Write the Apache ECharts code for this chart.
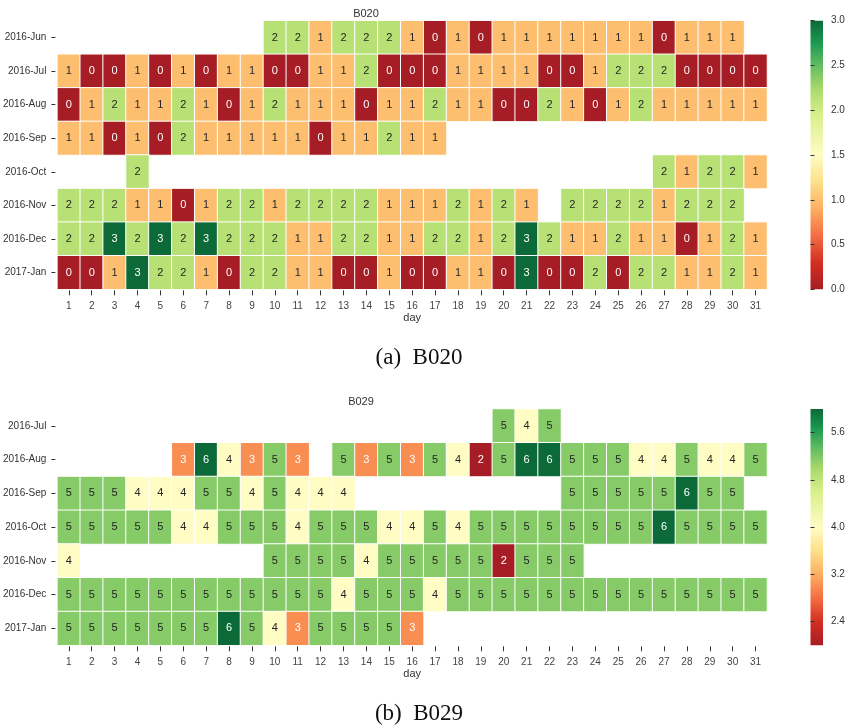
<!DOCTYPE html>
<html>
<head>
<meta charset="utf-8">
<script src="https://cdn.jsdelivr.net/npm/echarts@6/dist/echarts.min.js"></script>
<style>
html,body{margin:0;padding:0;background:#fff;}
#chart{width:854px;height:725px;}
</style>
</head>
<body>
<div id="chart"></div>
<script>
const days = ['1','2','3','4','5','6','7','8','9','10','11','12','13','14','15','16','17','18','19','20','21','22','23','24','25','26','27','28','29','30','31'];

const b020Months = ['2016-Jun','2016-Jul','2016-Aug','2016-Sep','2016-Oct','2016-Nov','2016-Dec','2017-Jan'];
const b020Jun = [null,null,null,null,null,null,null,null,null,2,2,1,2,2,2,1,0,1,0,1,1,1,1,1,1,1,0,1,1,1,null];
const b020Jul = [1,0,0,1,0,1,0,1,1,0,0,1,1,2,0,0,0,1,1,1,1,0,0,1,2,2,2,0,0,0,0];
const b020Aug = [0,1,2,1,1,2,1,0,1,2,1,1,1,0,1,1,2,1,1,0,0,2,1,0,1,2,1,1,1,1,1];
const b020Sep = [1,1,0,1,0,2,1,1,1,1,1,0,1,1,2,1,1,null,null,null,null,null,null,null,null,null,null,null,null,null,null];
const b020Oct = [null,null,null,2,null,null,null,null,null,null,null,null,null,null,null,null,null,null,null,null,null,null,null,null,null,null,2,1,2,2,1];
const b020Nov = [2,2,2,1,1,0,1,2,2,1,2,2,2,2,1,1,1,2,1,2,1,null,2,2,2,2,1,2,2,2,null];
const b020Dec = [2,2,3,2,3,2,3,2,2,2,1,1,2,2,1,1,2,2,1,2,3,2,1,1,2,1,1,0,1,2,1];
const b020Jan = [0,0,1,3,2,2,1,0,2,2,1,1,0,0,1,0,0,1,1,0,3,0,0,2,0,2,2,1,1,2,1];
const b020Rows = [b020Jun,b020Jul,b020Aug,b020Sep,b020Oct,b020Nov,b020Dec,b020Jan];
const b020Ticks = [0,0.5,1,1.5,2,2.5,3];

const b029Months = ['2016-Jul','2016-Aug','2016-Sep','2016-Oct','2016-Nov','2016-Dec','2017-Jan'];
const b029Jul = [null,null,null,null,null,null,null,null,null,null,null,null,null,null,null,null,null,null,null,5,4,5,null,null,null,null,null,null,null,null,null];
const b029Aug = [null,null,null,null,null,3,6,4,3,5,3,null,5,3,5,3,5,4,2,5,6,6,5,5,5,4,4,5,4,4,5];
const b029Sep = [5,5,5,4,4,4,5,5,4,5,4,4,4,null,null,null,null,null,null,null,null,null,5,5,5,5,5,6,5,5,null];
const b029Oct = [5,5,5,5,5,4,4,5,5,5,4,5,5,5,4,4,5,4,5,5,5,5,5,5,5,5,6,5,5,5,5];
const b029Nov = [4,null,null,null,null,null,null,null,null,5,5,5,5,4,5,5,5,5,5,2,5,5,5,null,null,null,null,null,null,null,null];
const b029Dec = [5,5,5,5,5,5,5,5,5,5,5,5,4,5,5,5,4,5,5,5,5,5,5,5,5,5,5,5,5,5,5];
const b029Jan = [5,5,5,5,5,5,5,6,5,4,3,5,5,5,5,3,null,null,null,null,null,null,null,null,null,null,null,null,null,null,null];
const b029Rows = [b029Jul,b029Aug,b029Sep,b029Oct,b029Nov,b029Dec,b029Jan];
const b029Ticks = [2.4,3.2,4.0,4.8,5.6];

const cmapStops = [[0,'#a61d25'],[0.1,'#d42e22'],[0.2,'#f46d43'],[0.3,'#fdae61'],[0.4,'#fee08b'],[0.5,'#fffcc4'],[0.65,'#d9ef8b'],[0.75,'#a6d96a'],[0.83,'#66bd63'],[0.92,'#1a9850'],[1,'#0b6a37']];

function buildData(rows, vmin, vmax){
  const out = [];
  rows.forEach((row, yi) => {
    row.forEach((v, xi) => {
      if (v === null) return;
      const t = (v - vmin) / (vmax - vmin);
      const dark = t < 0.3 || t > 0.85;
      out.push({value:[xi, yi, v], label:{color: dark ? '#ffffff' : '#262626'}});
    });
  });
  return out;
}

function cmapColors(){ return cmapStops.map(s => s[1]); }
function gradient(){
  return new echarts.graphic.LinearGradient(0,1,0,0, cmapStops.map(s => ({offset:s[0], color:s[1]})));
}

const txt = '#333';
const fontFam = 'Liberation Sans, Arial, sans-serif';

function heatAxes(gridIndex, months, bottomGap){
  return {
    x: {
      type:'category', data: days, gridIndex: gridIndex, position:'bottom', offset: 1,
      axisLine:{show:false},
      axisTick:{show:true, alignWithLabel:true, length:5, lineStyle:{color:'#333', width:1}},
      axisLabel:{color:'#444', fontSize:10, margin:11, fontFamily:fontFam, interval:0},
      splitLine:{show:false},
      name:'day', nameLocation:'middle', nameGap: bottomGap,
      nameTextStyle:{color:txt, fontSize:11, fontFamily:fontFam}
    },
    y: {
      type:'category', data: months, gridIndex: gridIndex, inverse:true, offset:2,
      axisLine:{show:false},
      axisTick:{show:true, alignWithLabel:true, length:4, lineStyle:{color:'#333', width:1}},
      axisLabel:{color:txt, fontSize:10, margin:9, fontFamily:fontFam, interval:0},
      splitLine:{show:false}
    }
  };
}

const a1 = heatAxes(0, b020Months, 22);
const a2 = heatAxes(1, b029Months, 21);

const option = {
  animation:false,
  backgroundColor:'#fff',
  title:[
    {text:'B020', left:361, top:3, textAlign:'center', textStyle:{fontSize:11, fontWeight:'normal', color:txt, fontFamily:fontFam}},
    {text:'B029', left:356, top:391, textAlign:'center', textStyle:{fontSize:11, fontWeight:'normal', color:txt, fontFamily:fontFam}},
    {text:'(a)  B020', left:414, top:341, textAlign:'center', textStyle:{fontSize:23, fontWeight:'normal', color:'#111', fontFamily:'Liberation Serif, serif'}},
    {text:'(b)  B029', left:414, top:697, textAlign:'center', textStyle:{fontSize:23, fontWeight:'normal', color:'#111', fontFamily:'Liberation Serif, serif'}}
  ],
  grid:[
    {left:56, top:20.7, width:711, height:268.6},
    {left:56, top:409, width:711, height:236.3},
    {left:810.5, top:20.7, width:12.5, height:268.6, show:true, borderWidth:0, backgroundColor: gradient()},
    {left:810.5, top:409, width:12.5, height:236.3, show:true, borderWidth:0, backgroundColor: gradient()}
  ],
  xAxis:[a1.x, a2.x,
    {type:'value', gridIndex:2, show:false},
    {type:'value', gridIndex:3, show:false}
  ],
  yAxis:[a1.y, a2.y,
    {type:'value', gridIndex:2, position:'right', min:0, max:3,
     axisLine:{show:false}, splitLine:{show:false},
     axisTick:{show:true, length:4, lineStyle:{color:'#333'}, customValues:b020Ticks},
     axisLabel:{color:txt, fontSize:10, margin:8, fontFamily:fontFam, customValues:b020Ticks, formatter:v => Number(v).toFixed(1), showMinLabel:true, showMaxLabel:true}},
    {type:'value', gridIndex:3, position:'right', min:2, max:6,
     axisLine:{show:false}, splitLine:{show:false},
     axisTick:{show:true, length:4, lineStyle:{color:'#333'}, customValues:b029Ticks},
     axisLabel:{color:txt, fontSize:10, margin:8, fontFamily:fontFam, customValues:b029Ticks, formatter:v => Number(v).toFixed(1)}}
  ],
  visualMap:[
    {type:'continuous', show:false, min:0, max:3, seriesIndex:0, dimension:2, inRange:{color:cmapColors()}},
    {type:'continuous', show:false, min:2, max:6, seriesIndex:1, dimension:2, inRange:{color:cmapColors()}}
  ],
  series:[
    {type:'heatmap', xAxisIndex:0, yAxisIndex:0, data: buildData(b020Rows, 0, 3),
     label:{show:true, fontSize:11, fontFamily:fontFam},
     itemStyle:{borderColor:'#ffffff', borderWidth:1}},
    {type:'heatmap', xAxisIndex:1, yAxisIndex:1, data: buildData(b029Rows, 2, 6),
     label:{show:true, fontSize:11, fontFamily:fontFam},
     itemStyle:{borderColor:'#ffffff', borderWidth:1}}
  ]
};

const chart = echarts.init(document.getElementById('chart'), null, {renderer:'canvas'});
chart.setOption(option);
</script>
</body>
</html>
